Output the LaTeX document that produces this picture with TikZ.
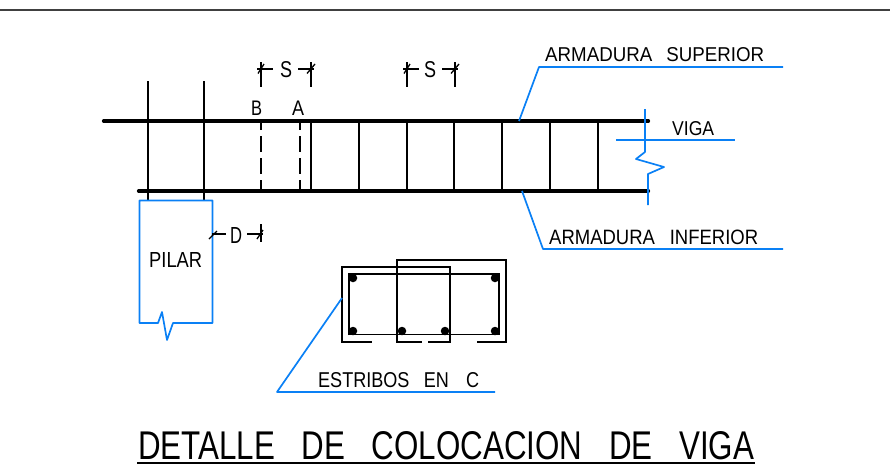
\documentclass[tikz,border=0pt]{standalone}
\usepackage{graphicx}
\usepackage{fontspec}
\setmainfont{Liberation Sans}
\definecolor{cadblue}{RGB}{10,128,245}
\newcommand{\cadtext}[3]{\resizebox{#1pt}{#2pt}{\fontsize{20}{20}\selectfont #3}}
\tikzset{
 x=1pt,y=-1pt,
 bar/.style={line width=3.2pt,line cap=round,black},
 fine/.style={line width=1.6pt,black},
 dashline/.style={line width=1.6pt,black,dash pattern=on 16pt off 6pt,dash phase=9pt},
 lead/.style={line width=1.7pt,cadblue,line join=round},
 lab/.style={inner sep=0pt,text=black,anchor=base west},
 tickline/.style={line width=1.3pt,black},
 bardot/.style={circle,fill=black,inner sep=0pt,minimum size=8.5pt}
}
\begin{document}
\begin{tikzpicture}
\useasboundingbox (0,0) rectangle (890,471);
\coordinate (tl) at (0,10); \coordinate (tr) at (890,10);
\draw[line width=1.5pt,black!75] (tl) -- (tr);
% main bars
\coordinate (t1) at (103.5,121); \coordinate (t2) at (648.5,121);
\coordinate (b1) at (138.5,191); \coordinate (b2) at (648.5,191);
\draw[bar] (t1) -- (t2);
\draw[bar] (b1) -- (b2);
% column bars
\draw[fine] (148,81) -- (148,201);
\draw[fine] (204,81) -- (204,201);
% stirrups
\foreach \x in {311,359,407,454,502,550,598}{\draw[fine] (\x,121) -- (\x,191);}
\draw[dashline] (261,123) -- (261,191);
\draw[dashline,line width=1.9pt] (300,123) -- (300,191);
% S dims
\draw[fine] (261,62) -- (261,87); \draw[fine] (311,62) -- (311,87);
\draw[fine] (407,62) -- (407,87); \draw[fine] (455,62) -- (455,87);
\foreach \xa/\xb in {261/311,407/455}{
 \draw[tickline] ({\xa-4},69) -- ({\xa+12},69);
 \draw[tickline] ({\xb-13},69) -- ({\xb+3},69);
 \draw[tickline] ({\xa-3},73.5) -- ({\xa+3},64);
 \draw[tickline] ({\xb-4},73.5) -- ({\xb+4},64);
}
\node[lab] (s1) at (280,77) {\cadtext{12}{16}{S}};
\node[lab] (s2) at (424,77) {\cadtext{12}{16}{S}};
\node[lab] (lb) at (251,115) {\cadtext{11}{14.5}{B}};
\node[lab] (la) at (292,115) {\cadtext{12}{14.5}{A}};
% Pilar
\draw[lead] (139.5,200.5) -- (212.5,200.5) -- (212.5,323) -- (173,323) -- (167,340) -- (162,312) -- (158,323) -- (139.5,323) -- cycle;
\node[lab] (pil) at (149,267) {\cadtext{53}{15}{PILAR}};
% D dim
\draw[tickline] (212,234) -- (226,234); \draw[tickline] (247,234) -- (263,234);
\draw[tickline] (209,239) -- (217,231); \draw[tickline] (261,224) -- (261,242);
\draw[tickline] (257,239) -- (263,230);
\node[lab] (dd) at (230,243) {\cadtext{12}{16}{D}};
% Right side
\draw[lead] (519,121) -- (539,67) -- (783,67);
\node[lab] (as) at (545,61) {\cadtext{219}{14}{ARMADURA\hspace{0.75em}SUPERIOR}};
\draw[lead] (522,191) -- (543,249) -- (783,249);
\node[lab] (ai) at (549,244) {\cadtext{209}{14.5}{ARMADURA\hspace{0.8em}INFERIOR}};
\draw[lead] (616,140) -- (735,140);
\node[lab] (vi) at (672,135) {\cadtext{42}{14}{VIGA}};
\draw[lead] (645,109) -- (645,152) -- (636,159) -- (664,167) -- (648,174) -- (648,205);
% Section
\draw[line width=1.5pt,black] (342,342) -- (342,267) -- (450,267) -- (450,342);
\draw[line width=1.5pt,black] (397,342) -- (397,260) -- (506,260) -- (506,342);
\draw[line width=2pt,black] (341.3,342) -- (372,342);
\draw[line width=2pt,black] (396.3,342) -- (422,342);
\draw[line width=2pt,black] (428,342) -- (450.7,342);
\draw[line width=2pt,black] (477,342) -- (506.7,342);
\draw[line width=1.3pt,black] (349,334.5) -- (499,334.5);
\draw[line width=2pt,black] (349,335) -- (349,273.5) -- (499,273.5) -- (499,335);
\foreach \p/\q in {353/278,495/278,353/331,402/331,445/331,495/331}{\node[bardot] at (\p,\q) {};}
\draw[lead] (342,298) -- (277,392) -- (495,392);
\node[lab] (es) at (318,387) {\cadtext{161}{15}{ESTRIBOS\hspace{0.8em}EN\hspace{0.95em}C}};
% Title
\node[lab] (ti) at (138,459) {\cadtext{616}{28}{DETALLE\hspace{0.85em}DE\hspace{0.85em}COLOCACION\hspace{0.85em}DE\hspace{0.85em}VIGA}};
\draw[line width=1.8pt,black] (137,463) -- (755,463);
\end{tikzpicture}
\end{document}
